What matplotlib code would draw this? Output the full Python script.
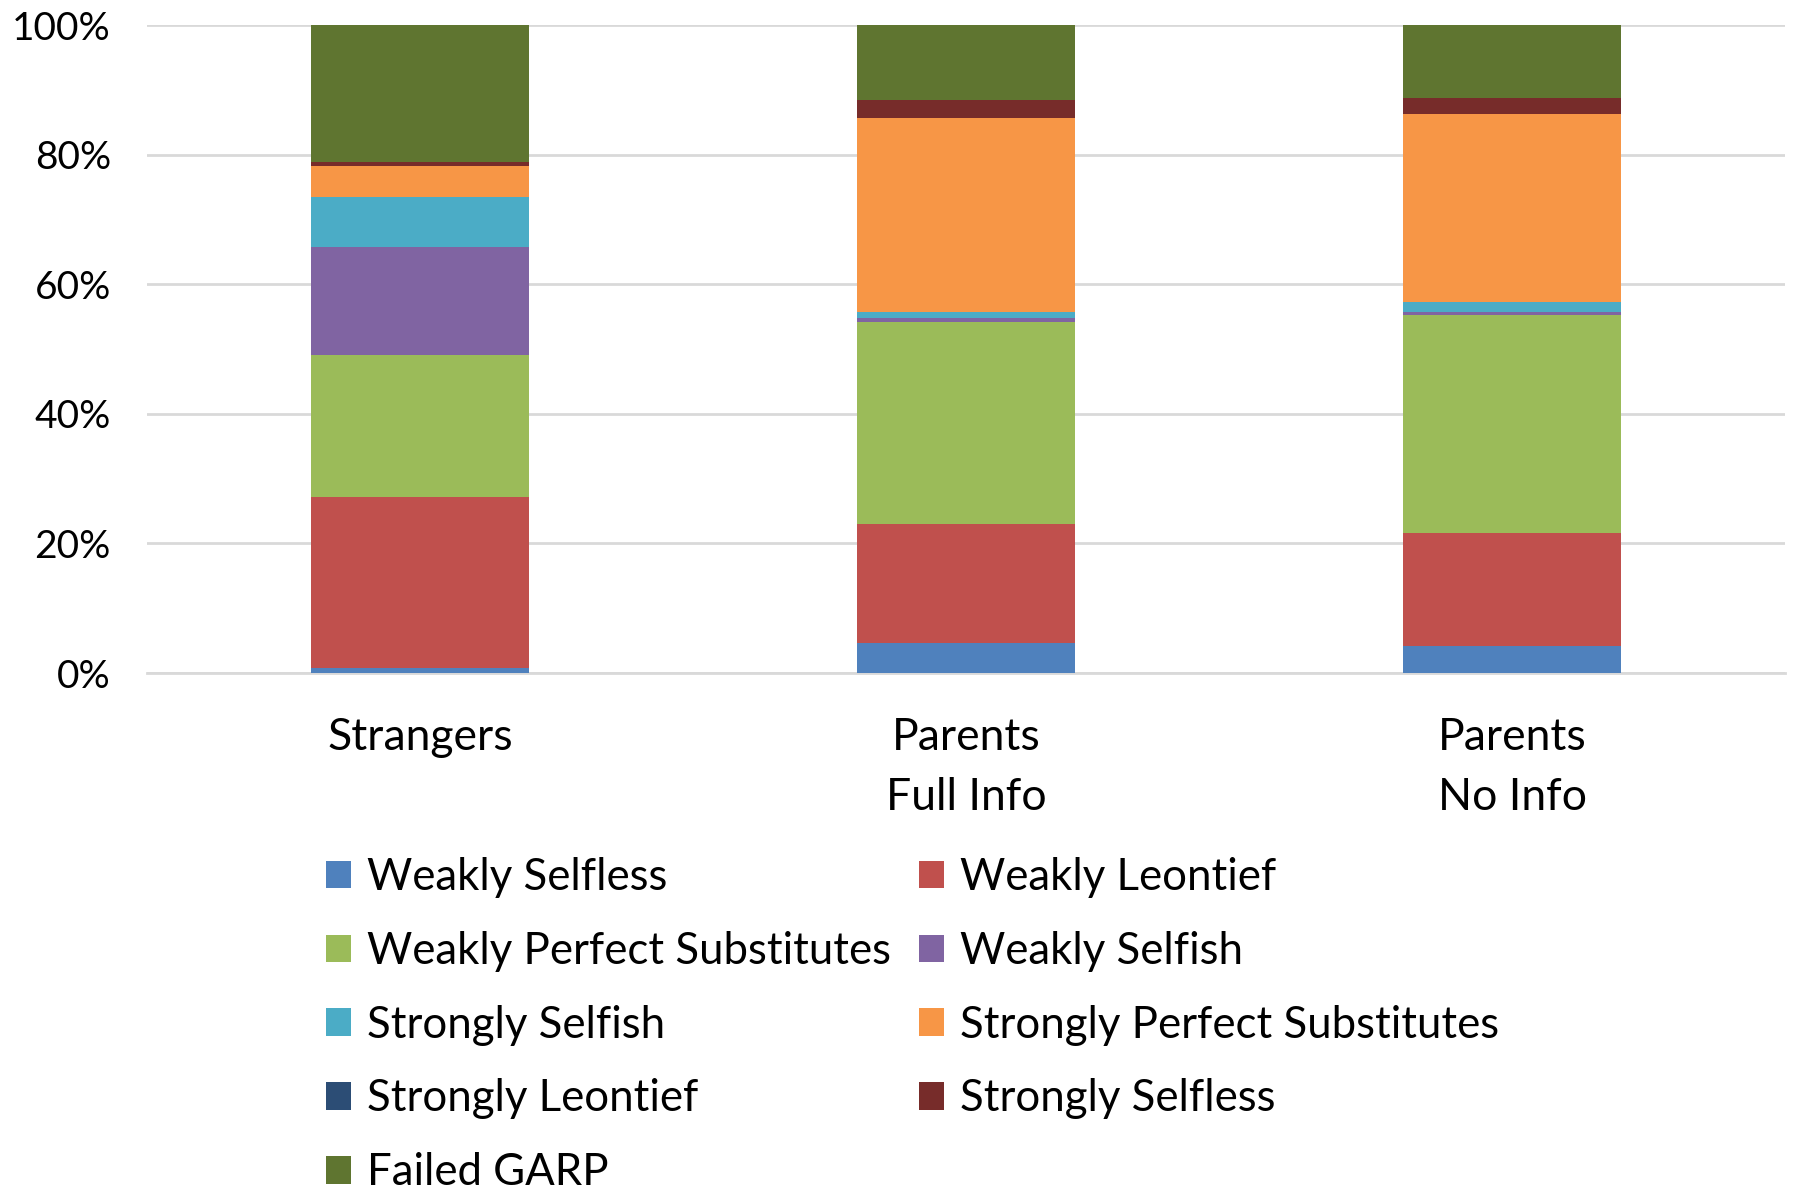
import matplotlib
matplotlib.use("Agg")
import matplotlib.pyplot as plt
from matplotlib.patches import Patch
import numpy as np

plt.rcParams['font.family'] = ['Lato', 'DejaVu Sans']

categories = ["Strangers", "Parents\nFull Info", "Parents\nNo Info"]
series_names = ["Weakly Selfless", "Weakly Leontief", "Weakly Perfect Substitutes",
                "Weakly Selfish", "Strongly Selfish", "Strongly Perfect Substitutes",
                "Strongly Leontief", "Strongly Selfless", "Failed GARP"]
weakly_selfless = [0.7, 4.6, 4.1]
weakly_leontief = [26.5, 18.4, 17.5]
weakly_perfect_substitutes = [21.8, 31.1, 33.7]
weakly_selfish = [16.8, 0.7, 0.4]
strongly_selfish = [7.6, 0.9, 1.5]
strongly_perfect_substitutes = [4.9, 30.0, 29.0]
strongly_leontief = [0.0, 0.0, 0.0]
strongly_selfless = [0.5, 2.8, 2.6]
failed_garp = [21.2, 11.5, 11.2]
tick_labels = ["0%", "20%", "40%", "60%", "80%", "100%"]

series = [weakly_selfless, weakly_leontief, weakly_perfect_substitutes, weakly_selfish,
          strongly_selfish, strongly_perfect_substitutes, strongly_leontief,
          strongly_selfless, failed_garp]
colors = ["#4F81BD", "#C0504D", "#9BBB59", "#8064A2", "#4BACC6", "#F79646",
          "#2C4D75", "#772C2A", "#5F7530"]

fig = plt.figure(figsize=(17.93, 11.92), dpi=100)
ax = fig.add_axes([147/1793, 1-673/1192, (1785-147)/1793, (673-25)/1192])

x = np.arange(len(categories))
bottom = np.zeros(len(categories))
handles = []
for name, vals, c in zip(series_names, series, colors):
    v = np.array(vals, dtype=float)
    ax.bar(x, v, width=0.4, bottom=bottom, color=c, label=name, zorder=3)
    bottom += v
    handles.append(Patch(facecolor=c, label=name))

ax.set_xlim(-0.5, 2.5)
ax.set_ylim(0, 100)
ax.set_yticks([0, 20, 40, 60, 80, 100])
ax.set_yticklabels(tick_labels, fontsize=28)
ax.set_xticks(x)
ax.set_xticklabels(categories, fontsize=32, linespacing=1.55)
ax.tick_params(axis='both', length=0)
ax.tick_params(axis='x', pad=32)
ax.tick_params(axis='y', pad=26)
ax.grid(axis='y', color='#d9d9d9', linewidth=2, zorder=0)
for s in ['top', 'right', 'left']:
    ax.spines[s].set_visible(False)
ax.spines['bottom'].set_color('#d9d9d9')
ax.spines['bottom'].set_linewidth(2)

col1 = [handles[i] for i in [0, 2, 4, 6, 8]]
col2 = [handles[i] for i in [1, 3, 5, 7]]
common = dict(loc='upper left', frameon=False, fontsize=31.5, handlelength=0.58,
              handleheight=0.6, handletextpad=0.35, labelspacing=0.75, borderpad=0,
              borderaxespad=0)
leg1 = fig.legend(handles=col1, bbox_to_anchor=(326/1793, 1-857/1192), **common)
leg2 = fig.legend(handles=col2, bbox_to_anchor=(919/1793, 1-857/1192), **common)

fig.savefig("out.png", dpi=100)
